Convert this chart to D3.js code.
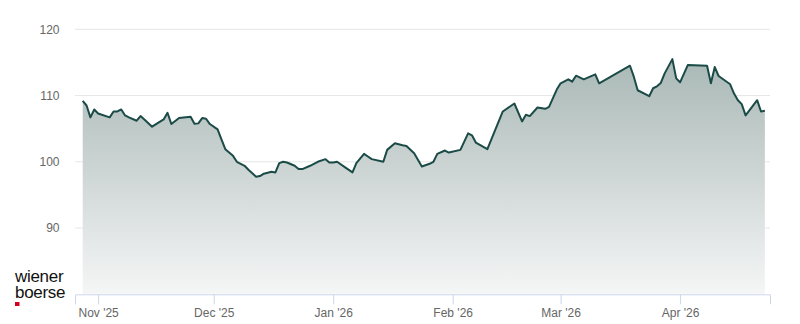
<!DOCTYPE html>
<html>
<head>
<meta charset="utf-8">
<script src="https://cdn.jsdelivr.net/npm/d3@7"></script>
<style>
    body { margin: 0; background: #fff; }
    text { font-family: 'Liberation Sans', Arial, sans-serif; }
</style>
</head>
<body>
<script>
// trading days (vertices of the line)
const dates = [
    '2025-10-28', '2025-10-29', '2025-10-30', '2025-10-31', '2025-11-01', '2025-11-04', '2025-11-05', '2025-11-06',
    '2025-11-07', '2025-11-08', '2025-11-09', '2025-11-11', '2025-11-12', '2025-11-13', '2025-11-15', '2025-11-18',
    '2025-11-19', '2025-11-20', '2025-11-22', '2025-11-25', '2025-11-26', '2025-11-27', '2025-11-28', '2025-11-29',
    '2025-11-30', '2025-12-02', '2025-12-03', '2025-12-04', '2025-12-05', '2025-12-06', '2025-12-07', '2025-12-09',
    '2025-12-10', '2025-12-12', '2025-12-13', '2025-12-14', '2025-12-16', '2025-12-17', '2025-12-18', '2025-12-19',
    '2025-12-20', '2025-12-22', '2025-12-23', '2025-12-24', '2025-12-26', '2025-12-28', '2025-12-30', '2025-12-31',
    '2026-01-01', '2026-01-02', '2026-01-04', '2026-01-06', '2026-01-07', '2026-01-09', '2026-01-10', '2026-01-11',
    '2026-01-14', '2026-01-15', '2026-01-17', '2026-01-19', '2026-01-20', '2026-01-22', '2026-01-24', '2026-01-26',
    '2026-01-27', '2026-01-28', '2026-01-30', '2026-01-31', '2026-02-03', '2026-02-05', '2026-02-06', '2026-02-07',
    '2026-02-10', '2026-02-14', '2026-02-17', '2026-02-19', '2026-02-20', '2026-02-21', '2026-02-23', '2026-02-25',
    '2026-02-26', '2026-02-28', '2026-03-01', '2026-03-03', '2026-03-04', '2026-03-05', '2026-03-07', '2026-03-10',
    '2026-03-11', '2026-03-19', '2026-03-20', '2026-03-21', '2026-03-24', '2026-03-25', '2026-03-26', '2026-03-27',
    '2026-03-28', '2026-03-30', '2026-03-31', '2026-04-01', '2026-04-03', '2026-04-08', '2026-04-09', '2026-04-10',
    '2026-04-11', '2026-04-14', '2026-04-15', '2026-04-16', '2026-04-17', '2026-04-18', '2026-04-21', '2026-04-22',
    '2026-04-23'
]

const values = [
    109.2, 108.5, 106.7, 107.9, 107.3, 106.7, 107.6, 107.6,
    107.9, 107.0, 106.7, 106.2, 106.9, 106.4, 105.3, 106.4,
    107.4, 105.7, 106.6, 106.8, 105.75, 105.8, 106.6, 106.5,
    105.7, 104.9, 103.4, 101.9, 101.4, 100.9, 100.0, 99.4,
    98.8, 97.75, 97.85, 98.2, 98.5, 98.4, 99.8, 100.0,
    99.9, 99.4, 98.9, 98.9, 99.4, 100.0, 100.4, 99.9,
    99.9, 100.0, 99.2, 98.4, 99.8, 101.2, 100.8, 100.4,
    100.0, 101.8, 102.8, 102.5, 102.4, 101.3, 99.3, 99.7,
    100.0, 101.2, 101.7, 101.4, 101.8, 104.3, 104.0, 102.9,
    101.9, 107.6, 108.8, 106.1, 107.1, 106.9, 108.2, 108.0,
    108.3, 110.9, 111.85, 112.45, 112.1, 113.0, 112.45, 113.2,
    111.85, 114.5, 112.85, 110.8, 109.9, 111.1, 111.4, 111.9,
    113.35, 115.5, 112.6, 112.0, 114.6, 114.5, 111.85, 114.3,
    112.95, 111.7, 110.3, 109.3, 108.7, 107.0, 109.3, 107.6,
    107.7
]

const yTicks = [90, 100, 110, 120]
const xTicks = ['2025-11-01', '2025-12-01', '2026-01-01', '2026-02-01', '2026-03-01', '2026-04-01']

const parse = d3.utcParse('%Y-%m-%d')
const data = dates.map((d, i) => ({ date: parse(d), value: values[i] }))

const width = 800
const height = 324
const margin = { top: 29.3, right: 30, bottom: 29.7, left: 75 }

const svg = d3.select('body').append('svg')
    .attr('width', width)
    .attr('height', height)

const xScale = d3.scaleUtc()
    .domain([parse('2025-10-26'), new Date(Date.UTC(2026, 3, 24, 8))])
    .range([margin.left, width - margin.right])

const yScale = d3.scaleLinear()
    .domain([80, 120])
    .range([height - margin.bottom, margin.top])

// gradient for the area
const grad = svg.append('defs').append('linearGradient')
    .attr('id', 'fill')
    .attr('x1', 0).attr('y1', 0)
    .attr('x2', 0).attr('y2', 1)
grad.append('stop').attr('offset', '0%').attr('stop-color', '#a9b8b6')
grad.append('stop').attr('offset', '100%').attr('stop-color', '#f5f6f6')

// grid
svg.append('g')
    .selectAll('line')
    .data(yTicks)
    .enter().append('line')
    .attr('x1', margin.left)
    .attr('x2', width - margin.right)
    .attr('y1', d => yScale(d))
    .attr('y2', d => yScale(d))
    .style('stroke', '#e6e6e6')
    .style('stroke-width', 1)

svg.append('g')
    .selectAll('text')
    .data(yTicks)
    .enter().append('text')
    .attr('x', 59.5)
    .attr('y', d => yScale(d))
    .attr('dy', '0.35em')
    .style('text-anchor', 'end')
    .style('font-size', '12px')
    .style('fill', '#666')
    .text(d => d)

const area = d3.area()
    .x(d => xScale(d.date))
    .y0(yScale(80))
    .y1(d => yScale(d.value))

const line = d3.line()
    .x(d => xScale(d.date))
    .y(d => yScale(d.value))

svg.append('path')
    .datum(data)
    .attr('d', area)
    .style('fill', 'url(#fill)')

svg.append('path')
    .datum(data)
    .attr('d', line)
    .style('fill', 'none')
    .style('stroke', '#1b4b47')
    .style('stroke-width', 2)
    .style('stroke-linejoin', 'round')

// x axis
const xAxis = svg.append('g')
    .attr('transform', `translate(0, ${yScale(80)})`)
    .call(d3.axisBottom(xScale)
        .tickValues(xTicks.map(parse))
        .tickFormat(d3.utcFormat("%b '%y"))
        .tickSize(10)
        .tickPadding(4))
xAxis.select('.domain').style('stroke', '#ccd6eb')
xAxis.selectAll('.tick line').style('stroke', '#ccd6eb')
xAxis.selectAll('.tick text')
    .style('font-family', "'Liberation Sans', Arial, sans-serif")
    .style('font-size', '12px')
    .style('fill', '#666')

// logo
const logo = svg.append('g')
logo.append('text')
    .attr('x', 15)
    .attr('y', 281.7)
    .style('font-size', '17px')
    .style('letter-spacing', '-0.3px')
    .style('fill', '#111')
    .text('wiener')
logo.append('text')
    .attr('x', 15)
    .attr('y', 297.7)
    .style('font-size', '17px')
    .style('letter-spacing', '-0.3px')
    .style('fill', '#111')
    .text('boerse')
logo.append('rect')
    .attr('x', 15)
    .attr('y', 302)
    .attr('width', 4.5)
    .attr('height', 4)
    .style('fill', '#d6001c')
</script>
</body>
</html>
